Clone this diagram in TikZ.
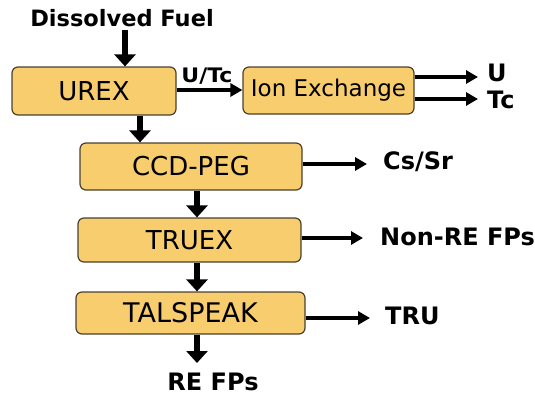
\documentclass[tikz,border=0pt]{standalone}
\usepackage{fontspec}
\usepackage{graphicx}
\setmainfont{DejaVu Sans}
\usetikzlibrary{arrows.meta}
\definecolor{boxfill}{HTML}{F8CD6E}
\definecolor{boxline}{HTML}{4A4030}
\tikzset{
  procbox/.style={draw=boxline, line width=1.2pt, fill=boxfill, rounded corners=6pt, inner sep=0pt, font=\fontsize{26}{30}\selectfont},
  lbl/.style={font=\bfseries\fontsize{24}{28}\selectfont, inner sep=0pt},
  varrow/.style={line width=6pt, -{Triangle[length=12pt,width=21pt]}},
  harrow/.style={line width=4pt, -{Triangle[length=12pt,width=13pt]}},
}
\begin{document}
\begin{tikzpicture}[x={(1pt,0)}, y={(0,-1pt)}]
\useasboundingbox (0,0) rectangle (535,396);
\node[procbox, minimum width=164pt, minimum height=48pt] (urex) at (94,91) {UREX};
\node[procbox, minimum width=171pt, minimum height=47pt, font=\fontsize{23}{27}\selectfont] (ion) at (328.5,90.5) {Ion Exchange};
\node[procbox, minimum width=222pt, minimum height=47pt] (ccd) at (191,166.5) {CCD-PEG};
\node[procbox, minimum width=223pt, minimum height=44pt] (truex) at (189.5,240) {TRUEX};
\node[procbox, minimum width=229pt, minimum height=42pt, font=\fontsize{27}{31}\selectfont] (tal) at (190.5,313) {TALSPEAK};

\node[lbl, font=\bfseries\fontsize{22.5}{26}\selectfont] (fuel) at (122,18) {Dissolved Fuel};
\node[lbl, font=\bfseries\fontsize{20}{23}\selectfont] (utc) at (207,76) {\scalebox{1.1}[1]{U/Tc}};
\node[lbl, anchor=west] (u) at (487,73) {U};
\node[lbl, anchor=west] (tc) at (487,100) {Tc};
\node[lbl, anchor=west] (cssr) at (383,162) {Cs/Sr};
\node[lbl, anchor=west] (nonre) at (380,237) {Non-RE FPs};
\node[lbl, anchor=west] (tru) at (385,316) {TRU};
\node[lbl] (refp) at (213,382) {RE FPs};

\coordinate (f1) at (125,30);
\coordinate (e1) at (478,77);
\coordinate (e2) at (478,99);
\coordinate (e3) at (367,164);
\coordinate (e4) at (363,238);
\coordinate (e5) at (370,318);
\coordinate (e6) at (197,363);

\draw[varrow] (f1) -- (f1 |- urex.north);
\draw[varrow] (140,0 |- urex.south) -- (140,0 |- ccd.north);
\draw[varrow] (197,0 |- ccd.south) -- (197,0 |- truex.north);
\draw[varrow] (197,0 |- truex.south) -- (197,0 |- tal.north);
\draw[varrow] (197,0 |- tal.south) -- (e6);

\draw[harrow] (urex.east |- 0,90) -- (ion.west |- 0,90);
\draw[harrow] (ion.east |- e1) -- (e1);
\draw[harrow] (ion.east |- e2) -- (e2);
\draw[harrow] (ccd.east |- e3) -- (e3);
\draw[harrow] (truex.east |- e4) -- (e4);
\draw[harrow] (tal.east |- e5) -- (e5);
\end{tikzpicture}
\end{document}
